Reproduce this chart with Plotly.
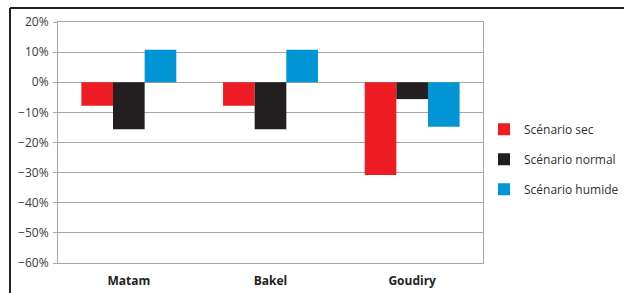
import plotly.graph_objects as go

categories = ["Matam", "Bakel", "Goudiry"]
series_names = ["Scénario sec", "Scénario normal", "Scénario humide"]
sec = [-0.078, -0.078, -0.308]
normal = [-0.156, -0.156, -0.056]
humide = [0.108, 0.108, -0.148]
colors = ["#ED1C24", "#231F20", "#0096D6"]
y_ticks = [0.2, 0.1, 0.0, -0.1, -0.2, -0.3, -0.4, -0.5, -0.6]

W, H = 624, 293
L, R, T, B = 58, 141, 22, 30
pw, ph = W - L - R, H - T - B

fig = go.Figure()
for i, (name, vals) in enumerate(zip(series_names, [sec, normal, humide])):
    fig.add_trace(go.Bar(x=categories, y=vals, name=name, marker_color=colors[i],
                         marker_line_width=0, legendgroup=name))

font = "Open Sans"
grid = "#A6A6A6"
ymin, ymax = -0.6, 0.2
zero_pos = (0 - ymin) / (ymax - ymin)

fig.update_layout(
    width=W, height=H,
    margin=dict(l=L, r=R, t=T, b=B, pad=0, autoexpand=False),
    paper_bgcolor="white", plot_bgcolor="white",
    barmode="group", bargap=0.33, bargroupgap=0,
    font=dict(family=font, size=12, color="#3A3A3A"),
    legend=dict(x=1.0 + 1 / pw, xanchor="left", y=0.431, yanchor="middle",
                traceorder="grouped", tracegroupgap=11,
                font=dict(family=font, size=12, color="#303030"),
                bgcolor="rgba(0,0,0,0)"),
    xaxis=dict(type="category", showline=True, linecolor=grid, mirror=True,
               ticks="", showgrid=False, ticklabelstandoff=7,
               tickfont=dict(family=font, size=12, color="#222222", weight="bold")),
    xaxis2=dict(overlaying="x", anchor="free", position=zero_pos, side="bottom",
                range=[-0.5, 2.5], tickvals=[-0.5, 0.5, 1.5, 2.5], showticklabels=False,
                ticks="outside", ticklen=7, tickcolor=grid, showline=True,
                linecolor=grid, showgrid=False, zeroline=False),
    yaxis=dict(range=[ymin, ymax], tickvals=y_ticks, tickformat=".0%",
               showgrid=True, gridcolor=grid, zeroline=False,
               showline=True, linecolor=grid, mirror=True, ticks="outside",
               ticklen=4, tickcolor=grid, ticklabelstandoff=2),
    showlegend=True,
)

# outer frame (top and left edges)
fx = (10 - L) / pw
fy = 1 + (T - 8) / ph
fig.add_shape(type="line", xref="paper", yref="paper", x0=fx, x1=(W - L + 5) / pw,
              y0=fy, y1=fy, line=dict(color="#222222", width=2))
fig.add_shape(type="line", xref="paper", yref="paper", x0=fx, x1=fx,
              y0=fy, y1=-(B + 5) / ph, line=dict(color="#222222", width=2))

fig.write_html("out.html", config={"displayModeBar": False},
               post_script="document.body.style.margin='0px';document.body.style.overflow='hidden';")
